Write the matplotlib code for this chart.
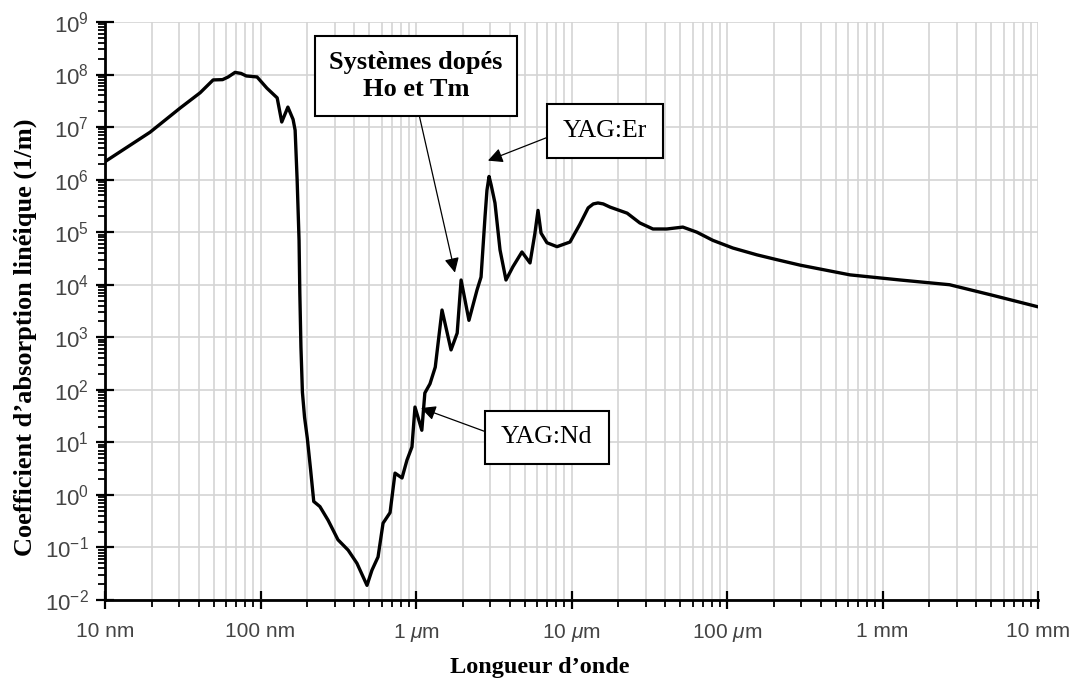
import matplotlib
matplotlib.use('Agg')
import matplotlib.pyplot as plt
from matplotlib.ticker import LogLocator, NullFormatter
import numpy as np

# ---- data ----
wavelength_nm = [10, 19.5, 30.4, 40.9, 49.6, 57, 62, 68.6, 75, 81, 95, 110, 128, 137, 150, 162, 167,
                 172, 177, 179, 182, 186, 192, 200, 210, 220, 241, 272, 315, 366, 417, 484,
                 521, 570, 614, 681, 733, 813, 875, 942, 985, 1090, 1140, 1230, 1330, 1470,
                 1680, 1840, 1950, 2190, 2470, 2620, 2780, 2860, 2950, 3040, 3220, 3470, 3790,
                 4200, 4800, 5410, 5820, 6090, 6370, 6950, 8070, 9780, 11300, 12800, 13800,
                 14800, 16000, 17700, 22800, 27500, 33400, 41000, 52000, 64000, 81000, 109000,
                 156000, 209000, 295000, 618000, 1.3e6, 2.7e6, 5.1e6, 1e7]
absorption_per_m = [2.2e6, 8e6, 2.3e7, 4.5e7, 7.9e7, 8e7, 9e7, 1.1e8, 1.05e8, 9.4e7, 9e7, 5.5e7,
                    3.6e7, 1.25e7, 2.4e7, 1.4e7, 8.7e6, 1e6, 7e4, 7e3, 650, 90, 30, 12, 3, 0.75,
                    0.6, 0.33, 0.14, 0.089, 0.05, 0.019, 0.037, 0.066, 0.29, 0.46, 2.6, 2.1, 4.6,
                    8.2, 47, 17, 87, 130, 270, 3300, 575, 1200, 12300, 2100, 8000, 14000, 2e5,
                    6.3e5, 1.15e6, 8e5, 3.6e5, 46000, 12300, 22000, 42000, 26000, 96000, 2.6e5,
                    96000, 63000, 53000, 65000, 1.4e5, 2.9e5, 3.45e5, 3.6e5, 3.45e5, 3e5, 2.3e5,
                    1.5e5, 1.15e5, 1.15e5, 1.25e5, 1e5, 7e4, 5e4, 3.7e4, 3e4, 2.36e4, 1.54e4,
                    1.23e4, 1.0e4, 6.3e3, 3.8e3]

x_tick_nm = [10, 100, 1000, 1e4, 1e5, 1e6, 1e7]
x_tick_labels = ['10 nm', '100 nm', r'1 $\mu$m', r'10 $\mu$m', r'100 $\mu$m', '1 mm', '10 mm']
y_tick_exponents = list(range(-2, 10))

# annotations: text, arrow tip (nm, value), box centre (nm, value)
ann_texts = ['Systèmes dopés\nHo et Tm', 'YAG:Er', 'YAG:Nd']
ann_tips_nm = [1780, 2900, 1077]
ann_tips_val = [1.7e4, 2.3e6, 45]
ann_box_nm = [1000, 16400, 6950]
ann_box_val = [9.4e7, 8.3e6, 12.4]

# ---- style ----
plt.rcParams['mathtext.fontset'] = 'custom'
plt.rcParams['mathtext.rm'] = 'Liberation Sans'
plt.rcParams['mathtext.it'] = 'Liberation Sans:italic'
plt.rcParams['mathtext.bf'] = 'Liberation Sans:bold'
plt.rcParams['font.family'] = ['Liberation Sans', 'DejaVu Sans']

W, H = 1076, 686
fig = plt.figure(figsize=(W / 100, H / 100), dpi=100)
fig.patch.set_facecolor('white')
left, right, top, bottom = 105, 1038, 22, 600
ax = fig.add_axes([left / W, 1 - bottom / H, (right - left) / W, (bottom - top) / H])

wl_m = np.array(wavelength_nm) * 1e-9
ax.plot(wl_m, absorption_per_m, color='black', lw=2.4, solid_joinstyle='round', zorder=3)

ax.set_xscale('log')
ax.set_yscale('log')
ax.set_xlim(1e-8, 1e-2)
ax.set_ylim(1e-2, 1e9)

ax.set_xticks(np.array(x_tick_nm) * 1e-9)
ax.set_xticklabels(x_tick_labels)
ax.xaxis.set_minor_locator(LogLocator(base=10, subs=np.arange(2, 10), numticks=100))
ax.xaxis.set_minor_formatter(NullFormatter())

ax.set_yticks([10.0 ** e for e in y_tick_exponents])
ax.set_yticklabels([r'$10^{%d}$' % e for e in y_tick_exponents])
ax.yaxis.set_minor_locator(LogLocator(base=10, subs=np.arange(2, 10), numticks=100))
ax.yaxis.set_minor_formatter(NullFormatter())

ax.grid(True, which='major', axis='both', color='#d4d4d4', lw=1.2, zorder=0)
ax.grid(True, which='minor', axis='x', color='#d4d4d4', lw=1.2, zorder=0)
ax.set_axisbelow(True)

for s in ['top', 'right']:
    ax.spines[s].set_visible(False)
for s in ['left', 'bottom']:
    ax.spines[s].set_linewidth(2.0)
    ax.spines[s].set_color('black')

ax.tick_params(axis='both', which='major', direction='inout', length=13, width=1.6,
               color='black', labelcolor='#444444')
ax.tick_params(axis='both', which='minor', direction='out', length=5, width=1.3, color='black')
ax.tick_params(axis='x', which='major', labelsize=15, pad=9)
ax.tick_params(axis='y', which='major', labelsize=16, pad=5)

# axis labels
fig.text(25 / W, 1 - 337 / H, 'Coefficient d\u2019absorption linéique (1/m)', rotation=90,
         ha='center', va='center', fontsize=19, fontweight='bold', family='Liberation Serif')
fig.text(540 / W, 1 - 668 / H, 'Longueur d\u2019onde', ha='center', va='center',
         fontsize=17.5, fontweight='bold', family='Liberation Serif')

# annotations
relpos = [(0.5, 0.0), (0.0, 0.5), (0.0, 0.5)]
weights = ['bold', 'normal', 'normal']
sizes = [19, 18.5, 18.5]
pads = [0.55, 0.62, 0.62]
for txt, tx, ty, bx, by, rp, fw, fs, pd in zip(ann_texts, ann_tips_nm, ann_tips_val, ann_box_nm,
                                                 ann_box_val, relpos, weights, sizes, pads):
    ax.annotate(txt, xy=(tx * 1e-9, ty), xytext=(bx * 1e-9, by), textcoords='data',
                ha='center', va='center', fontsize=fs, fontweight=fw, family='Liberation Serif',
                linespacing=1.25, zorder=5,
                bbox=dict(boxstyle='square,pad=%g' % pd, fc='white', ec='black', lw=1.5),
                arrowprops=dict(arrowstyle='-|>', color='black', lw=0.9, mutation_scale=22,
                                relpos=rp, shrinkA=0, shrinkB=0))

fig.savefig('out.png', dpi=100, facecolor='white')
